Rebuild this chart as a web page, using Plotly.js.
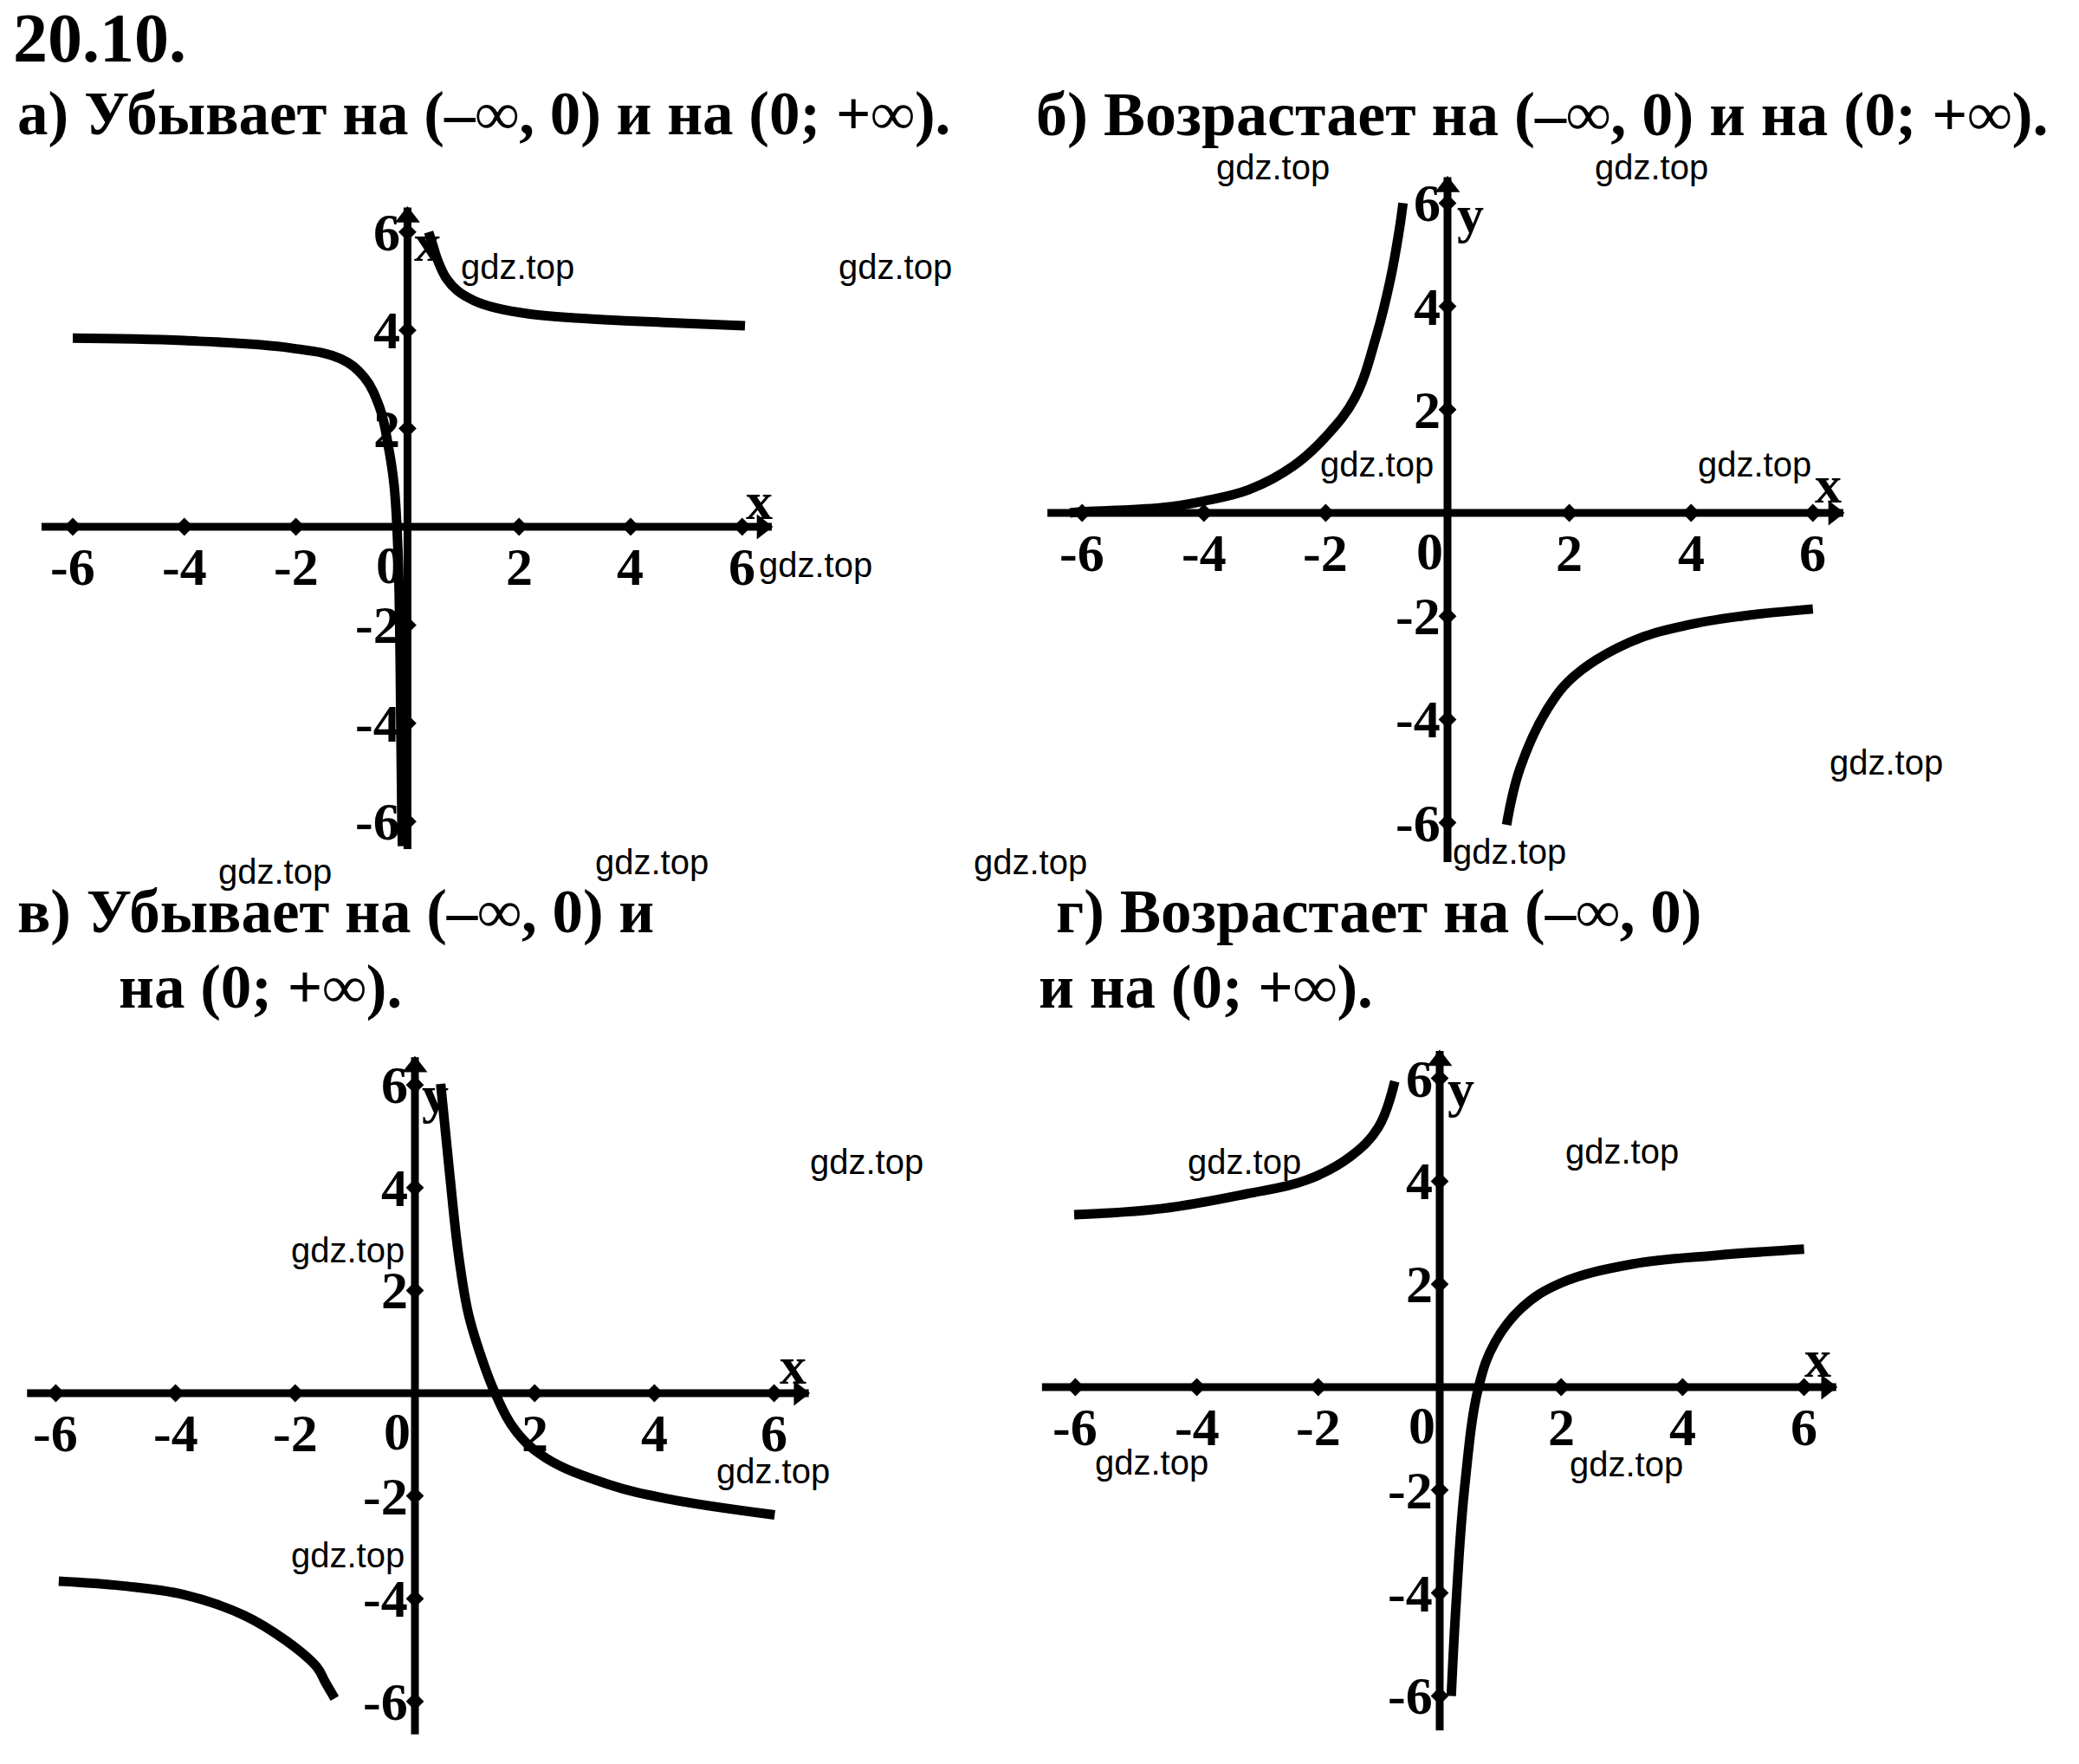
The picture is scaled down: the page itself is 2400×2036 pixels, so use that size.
<!DOCTYPE html>
<html><head><meta charset="utf-8">
<script src="https://cdn.plot.ly/plotly-3.0.1.min.js"></script>
<style>html,body{margin:0;padding:0;background:#fff;}#chart{width:2400px;height:2036px;}</style>
</head><body><div id="chart"></div>
<script>
// ---------- data ----------
const tickValues = [-6, -4, -2, 2, 4, 6];
const tickLabels = ['-6', '-4', '-2', '2', '4', '6'];
const originLabel = '0';

// а) left and right branches
const aLeftX  = [-6.0, -4.0, -2.1, -1.2, -0.78, -0.5, -0.34, -0.24, -0.17, -0.14, -0.12, -0.1, -0.09];
const aLeftY  = [3.84, 3.79, 3.64, 3.42, 3.05, 2.43, 1.62, 0.85, -0.5, -2.0, -4.0, -6.0, -6.5];
const aRightX = [0.38, 0.45, 0.55, 0.7, 0.9, 1.2, 1.6, 2.2, 3.0, 4.0, 5.0, 6.05];
const aRightY = [6.0, 5.75, 5.4, 5.05, 4.8, 4.6, 4.45, 4.33, 4.25, 4.19, 4.14, 4.09];

// б)
const bLeftX  = [-6.2, -6.0, -4.7, -4.0, -3.26, -2.53, -1.98, -1.52, -1.17, -0.94, -0.8, -0.73];
const bLeftY  = [0.0, 0.02, 0.1, 0.23, 0.45, 0.91, 1.5, 2.23, 3.42, 4.51, 5.42, 6.0];
const bRightX = [0.97, 1.19, 1.65, 2.1, 3.0, 3.91, 4.82, 6.0];
const bRightY = [-6.04, -4.95, -3.78, -3.14, -2.5, -2.18, -2.0, -1.86];

// в)
const cLeftX  = [-5.95, -4.89, -3.87, -2.86, -2.15, -1.64, -1.5, -1.34];
const cLeftY  = [-3.66, -3.75, -3.92, -4.32, -4.82, -5.33, -5.62, -5.94];
const cRightX = [0.43, 0.58, 0.73, 0.89, 1.09, 1.34, 1.7, 2.2, 3.22, 4.24, 6.01];
const cRightY = [6.02, 4.27, 2.68, 1.56, 0.77, 0.0, -0.76, -1.27, -1.77, -2.06, -2.37];

// г)
const dLeftX  = [-6.02, -4.57, -3.2, -2.2, -1.47, -1.01, -0.74];
const dLeftY  = [3.35, 3.47, 3.75, 4.02, 4.48, 5.05, 5.94];
const dRightX = [0.19, 0.27, 0.41, 0.64, 0.91, 1.36, 1.99, 3.17, 4.54, 6.0];
const dRightY = [-6.0, -4.2, -1.95, 0.0, 0.87, 1.55, 2.02, 2.39, 2.56, 2.68];

const headerText = '20.10.';
const titleA = 'а) Убывает на (–∞, 0) и на (0; +∞).';
const titleB = 'б) Возрастает на (–∞, 0) и на (0; +∞).';
const titleC1 = 'в) Убывает на (–∞, 0) и';
const titleC2 = 'на (0; +∞).';
const titleD1 = 'г) Возрастает на (–∞, 0)';
const titleD2 = 'и на (0; +∞).';
const watermark = 'gdz.top';

// ---------- layout helpers ----------
const W = 2400, H = 2036;
const SERIF = 'Liberation Serif, Times New Roman, serif';
const SANS = 'Liberation Sans, Arial, sans-serif';
const px = (x) => x / W;
const py = (y) => 1 - y / H;

const panels = [
  {s: '',  x0: 470.4, ux: 64.4, y0: 608,  uy: 56.7, xa: [-6.56, 6.53], ya: [-6.56, 6.5],
   left: [aLeftX, aLeftY], right: [aRightX, aRightY], xl: [876, 578], yl: [493, 280], yLetter: 'x'},
  {s: '2', x0: 1671,  ux: 70.3, y0: 592,  uy: 59.6, xa: [-6.57, 6.5], ya: [-6.76, 6.5],
   left: [bLeftX, bLeftY], right: [bRightX, bRightY], xl: [2110, 559], yl: [1697, 247], yLetter: 'y'},
  {s: '3', x0: 479,   ux: 69.1, y0: 1608, uy: 59.3, xa: [-6.48, 6.58], ya: [-6.64, 6.54],
   left: [cLeftX, cLeftY], right: [cRightX, cRightY], xl: [915, 1576], yl: [502, 1263], yLetter: 'y'},
  {s: '4', x0: 1662,  ux: 70.1, y0: 1601, uy: 59.4, xa: [-6.55, 6.53], ya: [-6.67, 6.53],
   left: [dLeftX, dLeftY], right: [dRightX, dRightY], xl: [2098, 1568], yl: [1686, 1256], yLetter: 'y'}
];

const XR = [-6.9, 7.1], YR = [-7.2, 7.2];
const traces = [];
const annotations = [];
const layout = {
  width: W, height: H, autosize: false,
  margin: {l: 0, r: 0, t: 0, b: 0, pad: 0},
  paper_bgcolor: '#ffffff', plot_bgcolor: 'rgba(0,0,0,0)',
  showlegend: false
};

const clamp = v => Math.max(0, Math.min(1, v));
const zeros = n => new Array(n).fill(0);

panels.forEach(p => {
  const xd = [clamp((p.x0 + XR[0] * p.ux) / W), clamp((p.x0 + XR[1] * p.ux) / W)];
  const yd = [clamp(1 - (p.y0 - YR[0] * p.uy) / H), clamp(1 - (p.y0 - YR[1] * p.uy) / H)];
  layout['xaxis' + p.s] = {domain: xd, range: XR, visible: false, fixedrange: true, anchor: 'y' + p.s};
  layout['yaxis' + p.s] = {domain: yd, range: YR, visible: false, fixedrange: true, anchor: 'x' + p.s};
  const xr = 'x' + p.s, yr = 'y' + p.s;
  const line = {color: '#000', width: 9};
  // axes
  traces.push({type: 'scatter', mode: 'lines', x: p.xa, y: [0, 0], xaxis: xr, yaxis: yr, line, hoverinfo: 'skip'});
  traces.push({type: 'scatter', mode: 'lines', x: [0, 0], y: p.ya, xaxis: xr, yaxis: yr, line, hoverinfo: 'skip'});
  // tick dots
  traces.push({type: 'scatter', mode: 'markers', x: tickValues, y: zeros(tickValues.length), xaxis: xr, yaxis: yr,
    marker: {symbol: 'diamond', size: 16, color: '#000'}, hoverinfo: 'skip'});
  traces.push({type: 'scatter', mode: 'markers', x: zeros(tickValues.length), y: tickValues, xaxis: xr, yaxis: yr,
    marker: {symbol: 'diamond', size: 16, color: '#000'}, hoverinfo: 'skip'});
  // arrowheads
  traces.push({type: 'scatter', mode: 'markers', x: [p.xa[1] - 11 / p.ux], y: [0], xaxis: xr, yaxis: yr,
    marker: {symbol: 'triangle-right', size: 25, color: '#000'}, hoverinfo: 'skip'});
  traces.push({type: 'scatter', mode: 'markers', x: [0], y: [p.ya[1] - 11 / p.uy], xaxis: xr, yaxis: yr,
    marker: {symbol: 'triangle-up', size: 25, color: '#000'}, hoverinfo: 'skip'});
  // curves
  [p.left, p.right].forEach(b => {
    traces.push({type: 'scatter', mode: 'lines', x: b[0], y: b[1], xaxis: xr, yaxis: yr,
      line: {color: '#000', width: 11, shape: 'spline', smoothing: 1.1}, hoverinfo: 'skip'});
  });
  // tick labels
  const tf = {family: SERIF, size: 62, color: '#000', weight: 'bold'};
  tickValues.forEach((t, i) => {
    annotations.push({xref: xr, yref: yr, x: t, y: 0, text: tickLabels[i], showarrow: false,
      xanchor: 'center', yanchor: 'middle', yshift: -46, font: tf});
    annotations.push({xref: xr, yref: yr, x: 0, y: t, text: tickLabels[i], showarrow: false,
      xanchor: 'right', yanchor: 'middle', xshift: -6, font: tf});
  });
  annotations.push({xref: xr, yref: yr, x: 0, y: 0, text: originLabel, showarrow: false,
    xanchor: 'right', yanchor: 'middle', xshift: -3, yshift: -44, font: tf});
  // axis letters
  const lf = {family: SERIF, size: 62, color: '#000', weight: 'bold'};
  annotations.push({xref: 'paper', yref: 'paper', x: px(p.xl[0]), y: py(p.xl[1]), text: 'x', showarrow: false,
    xanchor: 'center', yanchor: 'middle', font: lf});
  annotations.push({xref: 'paper', yref: 'paper', x: px(p.yl[0]), y: py(p.yl[1]), text: p.yLetter, showarrow: false,
    xanchor: 'center', yanchor: 'middle', font: lf});
});

// titles
const ttf = {family: SERIF, size: 71, color: '#000', weight: 'bold'};
[
  [headerText, 13, 44, 80],
  [titleA, 18, 132, 71],
  [titleB, 1194, 132, 72],
  [titleC1, 18, 1052, 71],
  [titleC2, 135, 1139, 71],
  [titleD1, 1217, 1052, 71],
  [titleD2, 1197, 1139, 71]
].forEach(t => {
  annotations.push({xref: 'paper', yref: 'paper', x: px(t[1]), y: py(t[2]), text: t[0], showarrow: false,
    xanchor: 'left', yanchor: 'middle', font: Object.assign({}, ttf, {size: t[3]})});
});

// watermarks (centre positions in page pixels)
const wmPos = [
  [597, 308], [1033, 308], [941, 652], [1469, 193], [1906, 193], [1589, 536], [2025, 536],
  [2177, 880], [1742, 983], [1189, 995], [753, 995], [317, 1006], [1001, 1341], [401, 1443],
  [892, 1698], [401, 1795], [1436, 1341], [1872, 1329], [1329, 1688], [1877, 1690]
];
wmPos.forEach(w => {
  annotations.push({xref: 'paper', yref: 'paper', x: px(w[0]), y: py(w[1]), text: watermark, showarrow: false,
    xanchor: 'center', yanchor: 'middle', font: {family: SANS, size: 40, color: '#000'}});
});

layout.annotations = annotations;
Plotly.newPlot('chart', traces, layout, {staticPlot: true, displayModeBar: false});
</script>
</body></html>
